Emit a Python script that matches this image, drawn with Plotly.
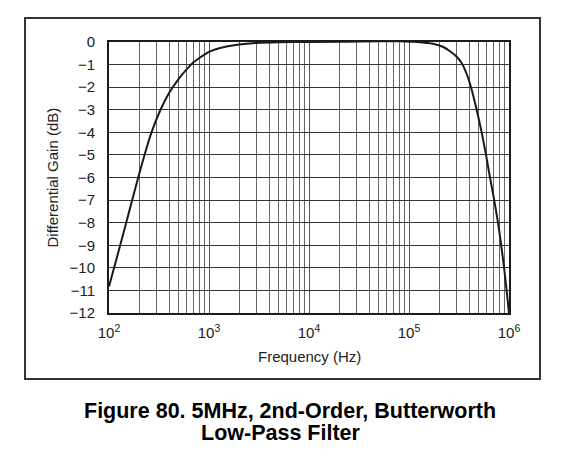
import plotly.graph_objects as go

# Data
freq_hz = [100, 112.4, 129.4, 148.6, 170.6, 195.9, 226.5, 266.1, 327.3, 400, 500, 600,
           700, 800, 900, 1000, 1150, 1500, 2000, 3000, 5000, 10000, 50000, 80000, 120000,
           174000, 220000, 257000, 300000, 336000, 380000, 417000, 475000, 533000,
           589000, 645700, 711200, 776200, 835600, 893300, 946200, 1000000]
gain_db = [-10.83, -10, -9, -8, -7, -6, -5, -4, -3, -2.25, -1.62, -1.2,
           -0.9, -0.71, -0.56, -0.44, -0.33, -0.2, -0.11, -0.04, -0.01, 0, 0.03, 0.03, 0,
           -0.08, -0.22, -0.41, -0.65, -0.93, -1.45, -2, -3, -4,
           -5, -6, -7, -8, -9, -10, -11, -12]

decades = [100, 1000, 10000, 100000, 1000000]
x_tick_text = ["10<sup>2</sup>", "10<sup>3</sup>", "10<sup>4</sup>", "10<sup>5</sup>", "10<sup>6</sup>"]
y_ticks = [0, -1, -2, -3, -4, -5, -6, -7, -8, -9, -10, -11, -12]
y_tick_text = ["0" if v == 0 else "\u2212" + str(-v) for v in y_ticks]

minor_vals = [d * m for d in decades[:-1] for m in range(2, 10)]

FONT = "Liberation Sans, Arial, sans-serif"

fig = go.Figure()
fig.add_trace(go.Scatter(
    x=freq_hz, y=gain_db, mode="lines",
    line=dict(color="#1a1a1a", width=2, shape="spline", smoothing=0.5),
    showlegend=False, hoverinfo="skip",
))

# page body has an 8px offset; margins compensate so the plot area sits at x 109-509, y 42-313
fig.update_layout(
    width=579, height=456,
    margin=dict(l=101, r=78, t=34, b=151),
    paper_bgcolor="white", plot_bgcolor="white",
    font=dict(family=FONT, size=15, color="#222"),
    xaxis=dict(
        type="log", range=[2, 6],
        tickvals=decades, ticktext=x_tick_text,
        showgrid=True, gridcolor="#555", gridwidth=1,
        minor=dict(tickvals=minor_vals, showgrid=True, gridcolor="#666", gridwidth=1, ticks=""),
        ticks="", ticklabelstandoff=5,
        showline=True, linecolor="#1a1a1a", linewidth=2, mirror=True,
        zeroline=False, tickfont=dict(size=15),
    ),
    yaxis=dict(
        range=[-12, 0],
        tickvals=y_ticks, ticktext=y_tick_text,
        showgrid=True, gridcolor="#333", gridwidth=1,
        ticks="", ticklabelstandoff=9,
        showline=True, linecolor="#1a1a1a", linewidth=2, mirror=True,
        zeroline=False, tickfont=dict(size=15),
    ),
    shapes=[dict(
        type="rect", xref="paper", yref="paper",
        x0=-0.21, x1=1.0775, y0=-0.2435, y1=1.0886,
        line=dict(color="#333", width=2), fillcolor="rgba(0,0,0,0)", layer="below",
    )],
    annotations=[
        dict(text="Differential Gain (dB)", xref="paper", yref="paper",
             x=-0.1425, y=0.5, textangle=-90, showarrow=False,
             xanchor="center", yanchor="middle", font=dict(size=15)),
        dict(text="Frequency (Hz)", xref="paper", yref="paper",
             x=0.5, y=-0.159, showarrow=False,
             xanchor="center", yanchor="middle", font=dict(size=15)),
        dict(text="<b>Figure 80. 5MHz, 2nd-Order, Butterworth</b>",
             xref="paper", yref="paper", x=0.4525, y=-0.3616, showarrow=False,
             xanchor="center", yanchor="middle",
             font=dict(size=21.5, color="#000")),
        dict(text="<b>Low-Pass Filter</b>",
             xref="paper", yref="paper", x=0.43, y=-0.4428, showarrow=False,
             xanchor="center", yanchor="middle",
             font=dict(size=21.5, color="#000")),
    ],
)

fig.write_html("out.html")
